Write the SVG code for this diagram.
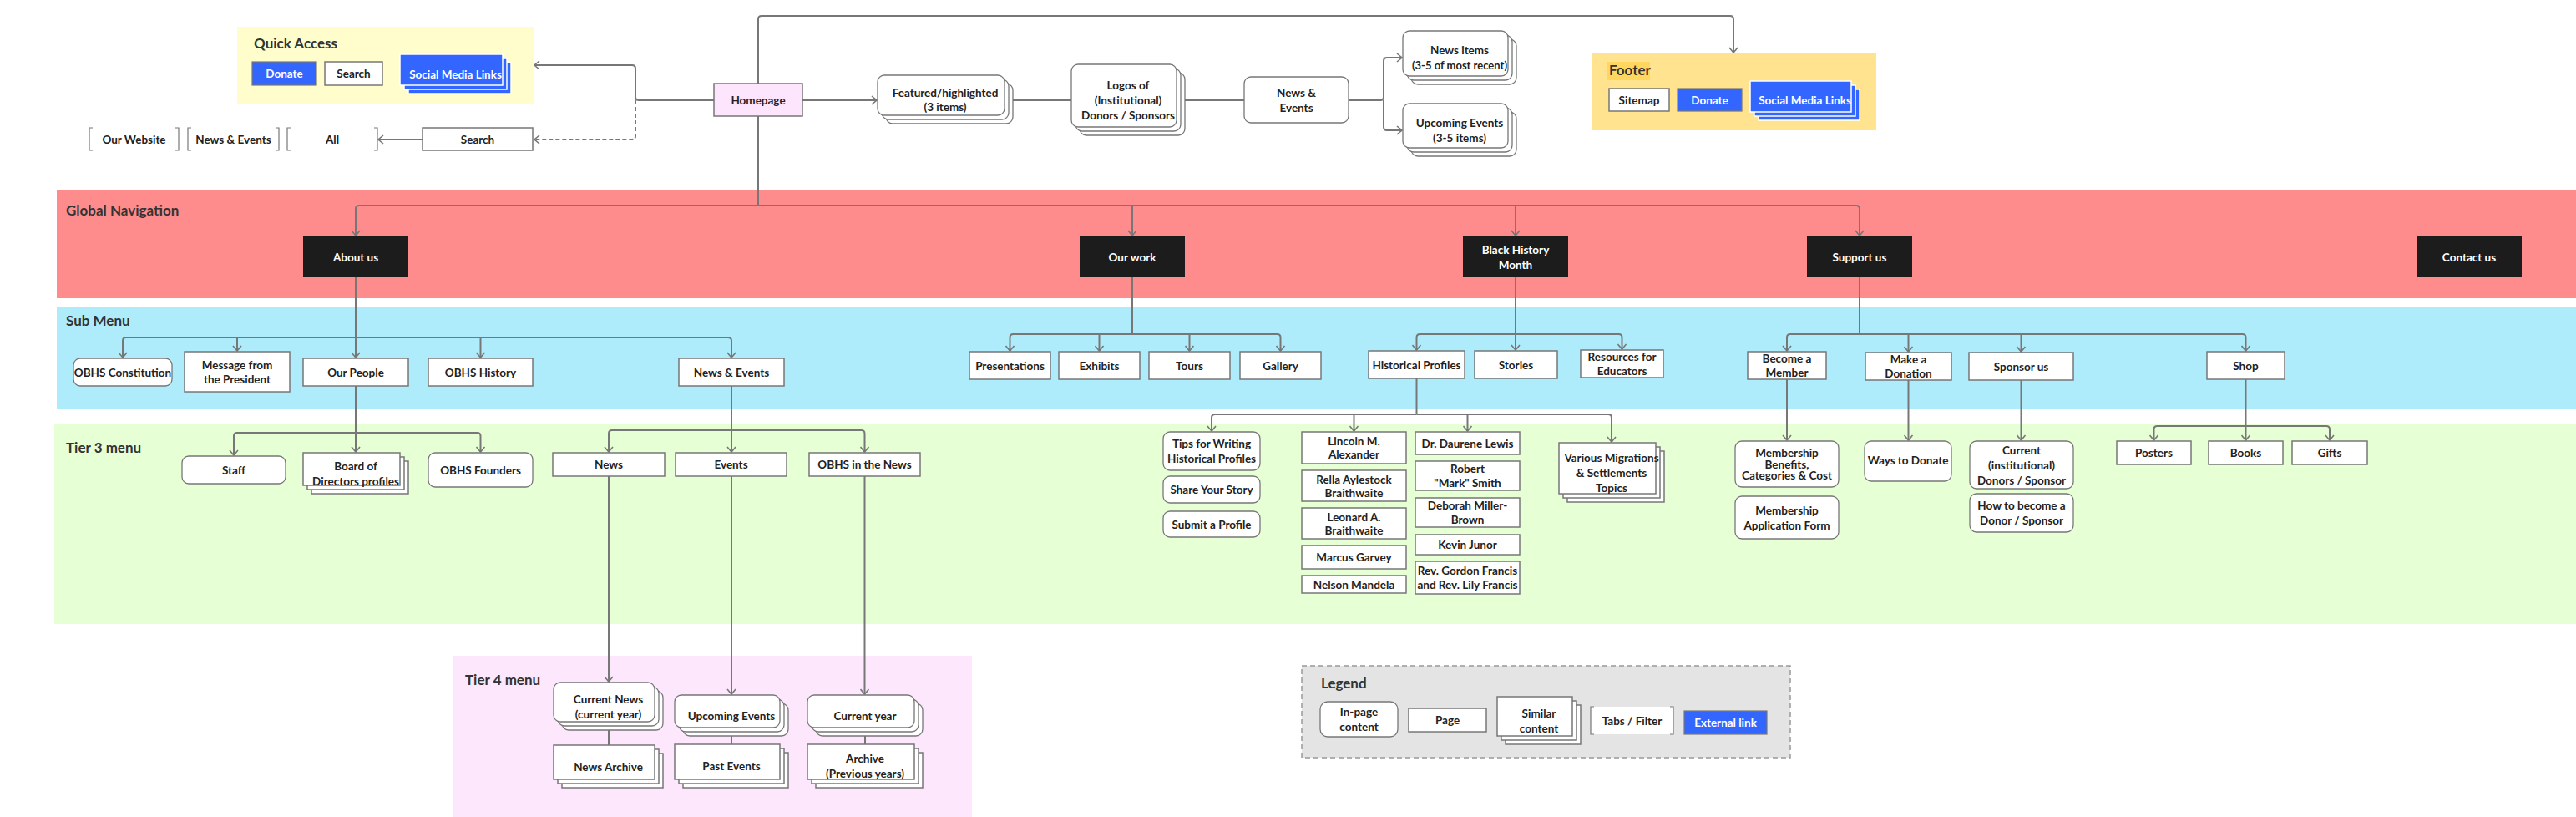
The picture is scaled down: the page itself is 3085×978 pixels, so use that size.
<svg xmlns="http://www.w3.org/2000/svg" width="3085" height="978" viewBox="0 0 3085 978">
<style>
.pg{fill:#fff;stroke:#777;stroke-width:1.5}
.ip{fill:#fff;stroke:#777;stroke-width:1.3}
.nav{fill:#1c1c1c}
.ext{fill:#3366ff;stroke:#777;stroke-width:1.2}
.extw{fill:#3366ff;stroke:#fff;stroke-width:1.5}
.t{font-family:Lato,"Liberation Sans",sans-serif;font-size:13.5px;font-weight:700;fill:#222;text-anchor:middle;dominant-baseline:central}
.w{fill:#fff}
.lbl{font-family:Lato,"Liberation Sans",sans-serif;font-size:17px;font-weight:700;fill:#333}
.ln{fill:none;stroke:#777;stroke-width:2}
.ar{marker-end:url(#arr)}
.br{fill:none;stroke:#777;stroke-width:1.2}
</style>
<defs>
<marker id="arr" markerUnits="userSpaceOnUse" viewBox="0 0 8 12" refX="7" refY="6" markerWidth="8" markerHeight="12" orient="auto">
<path d="M1,1 L7,6 L1,11" fill="none" stroke="#777" stroke-width="1.6"/>
</marker>
</defs>

<!-- bands -->
<g id="bands">
<rect x="68" y="227" width="3017" height="130" fill="#ff8c8c"/>
<rect x="68" y="367" width="3017" height="123" fill="#aeebfb"/>
<rect x="65" y="508" width="3020" height="239" fill="#e6ffd5"/>
<rect x="542" y="785" width="622" height="193" fill="#fce7fc"/>
<rect x="284" y="32" width="355" height="92" fill="#fffdcc"/>
<rect x="1907" y="64" width="340" height="92" fill="#ffe38f"/>
<rect x="1559" y="797" width="585" height="110" fill="#e4e4e4" stroke="#999" stroke-width="1.5" stroke-dasharray="6 4"/>
<text class="lbl" x="79" y="258">Global Navigation</text>
<text class="lbl" x="79" y="390" fill="#111">Sub Menu</text>
<text class="lbl" x="79" y="542" fill="#111">Tier 3 menu</text>
<text class="lbl" x="557" y="820" fill="#111">Tier 4 menu</text>
<text class="lbl" x="304" y="58">Quick Access</text>
<rect x="1925" y="74" width="51" height="22" fill="#ffd75e"/>
<text class="lbl" x="1927" y="90" fill="#111">Footer</text>
<text class="lbl" x="1582" y="824" font-size="20">Legend</text>
</g>

<!-- connectors -->
<g id="connectors">
<path class="ln ar" d="M855,120 H765 Q761,120 761,116 V82 Q761,78 757,78 H640"/>
<path class="ln ar" d="M761,120 V163 Q761,167 757,167 H640" stroke-dasharray="5 3"/>
<path class="ln ar" d="M506,167 H453"/>
<path class="ln ar" d="M961,120 H1050"/>
<path class="ln" d="M1213,120 H1283"/>
<path class="ln" d="M1419,120 H1490"/>
<path class="ln ar" d="M1615,120 H1653 Q1657,120 1657,116 V73 Q1657,69 1661,69 H1679"/>
<path class="ln ar" d="M1657,120 V152 Q1657,156 1661,156 H1679"/>
<path class="ln ar" d="M908,100 V23 Q908,19 912,19 H2072 Q2076,19 2076,23 V63"/>
<path class="ln" d="M908,139 V246"/>
<path class="ln ar" d="M908,246 H430 Q426,246 426,250 V282"/>
<path class="ln ar" d="M908,246 H2223 Q2227,246 2227,250 V282"/>
<path class="ln ar" d="M1356,246 V282"/>
<path class="ln ar" d="M1815,246 V282"/>
<!-- about us -->
<path class="ln ar" d="M426,332 V428"/>
<path class="ln ar" d="M426,404 H151 Q147,404 147,408 V428"/>
<path class="ln ar" d="M426,404 H872 Q876,404 876,408 V428"/>
<path class="ln ar" d="M284,404 V420"/>
<path class="ln ar" d="M575.5,404 V428"/>
<!-- our work -->
<path class="ln" d="M1356,332 V400"/>
<path class="ln ar" d="M1356,400 H1213.5 Q1209.5,400 1209.5,404 V420"/>
<path class="ln ar" d="M1356,400 H1529.5 Q1533.5,400 1533.5,404 V420"/>
<path class="ln ar" d="M1316.5,400 V420"/>
<path class="ln ar" d="M1424.5,400 V420"/>
<!-- BHM -->
<path class="ln ar" d="M1815,332 V419"/>
<path class="ln ar" d="M1815,400 H1700.5 Q1696.5,400 1696.5,404 V419"/>
<path class="ln ar" d="M1815,400 H1938.5 Q1942.5,400 1942.5,404 V418"/>
<!-- support -->
<path class="ln" d="M2227,332 V400"/>
<path class="ln ar" d="M2227,400 H2144 Q2140,400 2140,404 V420"/>
<path class="ln ar" d="M2227,400 H2685.5 Q2689.5,400 2689.5,404 V420"/>
<path class="ln ar" d="M2285.5,400 V421"/>
<path class="ln ar" d="M2420.5,400 V421"/>
<!-- our people -->
<path class="ln ar" d="M426,462 V541"/>
<path class="ln ar" d="M426,518 H284 Q280,518 280,522 V545"/>
<path class="ln ar" d="M426,518 H571.5 Q575.5,518 575.5,522 V541"/>
<!-- news & events -->
<path class="ln ar" d="M876,462 V541"/>
<path class="ln ar" d="M876,515 H733 Q729,515 729,519 V541"/>
<path class="ln ar" d="M876,515 H1031.5 Q1035.5,515 1035.5,519 V541"/>
<path class="ln ar" d="M729,570 V816"/>
<path class="ln ar" d="M876,570 V831"/>
<path class="ln ar" d="M1035.5,570 V831"/>
<path class="ln" d="M729,864 V892"/>
<path class="ln" d="M876,871 V891"/>
<path class="ln" d="M1036,871 V891"/>
<!-- historical profiles -->
<path class="ln" d="M1696.5,453 V496"/>
<path class="ln ar" d="M1696.5,496 H1455 Q1451,496 1451,500 V516"/>
<path class="ln ar" d="M1696.5,496 H1926 Q1930,496 1930,500 V529"/>
<path class="ln ar" d="M1621.5,496 V516"/>
<path class="ln ar" d="M1757.5,496 V516"/>
<!-- support children -->
<path class="ln ar" d="M2140,454 V527"/>
<path class="ln ar" d="M2285.5,455 V527"/>
<path class="ln ar" d="M2420.5,455 V527"/>
<path class="ln ar" d="M2689.5,454 V527"/>
<path class="ln ar" d="M2689.5,510 H2583.5 Q2579.5,510 2579.5,514 V527"/>
<path class="ln ar" d="M2689.5,510 H2786 Q2790,510 2790,514 V527"/>
</g>

<!-- top nodes -->
<g id="qa-donate"><rect class="ext" x="302" y="74" width="77" height="28"/><text class="t w" x="340.5" y="88">Donate</text></g>
<g id="qa-search"><rect class="pg" x="389" y="74" width="69" height="28"/><text class="t" x="423.5" y="88">Search</text></g>
<g id="qa-social"><rect class="extw" x="489" y="75" width="123" height="37"/><rect class="extw" x="484" y="70" width="123" height="37"/><rect class="extw" x="479" y="65" width="123" height="37"/><text class="t w" x="545.5" y="88.5">Social Media Links</text></g>

<g id="tab-website"><path class="br" d="M111,153 H107 V180 H111 M210,153 H214 V180 H210"/><text class="t" x="160.5" y="166.5">Our Website</text></g>
<g id="tab-news"><path class="br" d="M229,153 H225 V180 H229 M330,153 H334 V180 H330"/><text class="t" x="279.5" y="166.5">News &amp; Events</text></g>
<g id="tab-all"><path class="br" d="M348,153 H344 V180 H348 M448,153 H452 V180 H448"/><text class="t" x="398" y="166.5">All</text></g>
<g id="search"><rect class="pg" x="506" y="153" width="132" height="27"/><text class="t" x="572" y="166.5">Search</text></g>

<g id="homepage"><rect x="855" y="100" width="106" height="39" fill="#fde5fd" stroke="#777" stroke-width="1.5"/><text class="t" x="908" y="119.5" fill="#333">Homepage</text></g>

<g id="featured"><rect class="ip" x="1061" y="100" width="152" height="48" rx="8"/><rect class="ip" x="1056" y="95" width="152" height="48" rx="8"/><rect class="ip" x="1051" y="90" width="152" height="48" rx="8"/><text class="t" x="1132" y="119"><tspan x="1132" dy="-8.5">Featured/highlighted</tspan><tspan x="1132" dy="17">(3 items)</tspan></text></g>
<g id="logos"><rect class="ip" x="1293" y="87" width="126" height="75" rx="8"/><rect class="ip" x="1288" y="82" width="126" height="75" rx="8"/><rect class="ip" x="1283" y="77" width="126" height="75" rx="8"/><text class="t" x="1351" y="119.5"><tspan x="1351" dy="-18">Logos of</tspan><tspan x="1351" dy="18">(Institutional)</tspan><tspan x="1351" dy="18">Donors / Sponsors</tspan></text></g>
<g id="home-news-events"><rect class="ip" x="1490" y="92" width="125" height="55" rx="8"/><text class="t" x="1552.5" y="119.5"><tspan x="1552.5" dy="-9">News &amp;</tspan><tspan x="1552.5" dy="18">Events</tspan></text></g>
<g id="news-items"><rect class="ip" x="1690" y="47" width="126" height="54" rx="8"/><rect class="ip" x="1685" y="42" width="126" height="54" rx="8"/><rect class="ip" x="1680" y="37" width="126" height="54" rx="8"/><text class="t" x="1748" y="69"><tspan x="1748" dy="-9">News items</tspan><tspan x="1748" dy="18" font-size="13">(3-5 of most recent)</tspan></text></g>
<g id="upcoming-events"><rect class="ip" x="1690" y="134" width="126" height="53" rx="8"/><rect class="ip" x="1685" y="129" width="126" height="53" rx="8"/><rect class="ip" x="1680" y="124" width="126" height="53" rx="8"/><text class="t" x="1748" y="155.5"><tspan x="1748" dy="-9">Upcoming Events</tspan><tspan x="1748" dy="18">(3-5 items)</tspan></text></g>

<g id="footer-sitemap"><rect class="pg" x="1927" y="106" width="72" height="27"/><text class="t" x="1963" y="119.5">Sitemap</text></g>
<g id="footer-donate"><rect class="ext" x="2009" y="106" width="77" height="27"/><text class="t w" x="2047.5" y="119.5">Donate</text></g>
<g id="footer-social"><rect class="extw" x="2106" y="107" width="121" height="37"/><rect class="extw" x="2101" y="102" width="121" height="37"/><rect class="extw" x="2096" y="97" width="121" height="37"/><text class="t w" x="2161.5" y="120">Social Media Links</text></g>

<!-- global nav -->
<g id="nav-about"><rect class="nav" x="363" y="283" width="126" height="49"/><text class="t w" x="426" y="307.5">About us</text></g>
<g id="nav-work"><rect class="nav" x="1293" y="283" width="126" height="49"/><text class="t w" x="1356" y="307.5">Our work</text></g>
<g id="nav-bhm"><rect class="nav" x="1752" y="283" width="126" height="49"/><text class="t w" x="1815" y="307.5"><tspan x="1815" dy="-9">Black History</tspan><tspan x="1815" dy="18">Month</tspan></text></g>
<g id="nav-support"><rect class="nav" x="2164" y="283" width="126" height="49"/><text class="t w" x="2227" y="307.5">Support us</text></g>
<g id="nav-contact"><rect class="nav" x="2894" y="283" width="126" height="49"/><text class="t w" x="2957" y="307.5">Contact us</text></g>

<!-- sub menu -->
<g id="sub-constitution"><rect class="ip" x="88" y="429" width="118" height="33" rx="8"/><text class="t" x="147" y="445.5" font-size="13">OBHS Constitution</text></g>
<g id="sub-message"><rect class="pg" x="221" y="421" width="126" height="48"/><text class="t" x="284" y="445" fill="#000"><tspan x="284" dy="-8.5">Message from</tspan><tspan x="284" dy="17">the President</tspan></text></g>
<g id="sub-people"><rect class="pg" x="363" y="429" width="126" height="33"/><text class="t" x="426" y="445.5" fill="#000">Our People</text></g>
<g id="sub-history"><rect class="pg" x="513" y="429" width="125" height="33"/><text class="t" x="575.5" y="445.5" fill="#000">OBHS History</text></g>
<g id="sub-news-events"><rect class="pg" x="813" y="429" width="126" height="33"/><text class="t" x="876" y="445.5" fill="#000">News &amp; Events</text></g>
<g id="sub-presentations"><rect class="pg" x="1161" y="421" width="97" height="33"/><text class="t" x="1209.5" y="437.5" fill="#000">Presentations</text></g>
<g id="sub-exhibits"><rect class="pg" x="1268" y="421" width="97" height="33"/><text class="t" x="1316.5" y="437.5" fill="#000">Exhibits</text></g>
<g id="sub-tours"><rect class="pg" x="1376" y="421" width="97" height="33"/><text class="t" x="1424.5" y="437.5" fill="#000">Tours</text></g>
<g id="sub-gallery"><rect class="pg" x="1485" y="421" width="97" height="33"/><text class="t" x="1533.5" y="437.5" fill="#000">Gallery</text></g>
<g id="sub-historical"><rect class="pg" x="1639" y="420" width="115" height="33"/><text class="t" x="1696.5" y="436.5" fill="#000">Historical Profiles</text></g>
<g id="sub-stories"><rect class="pg" x="1766" y="420" width="99" height="33"/><text class="t" x="1815.5" y="436.5" fill="#000">Stories</text></g>
<g id="sub-resources"><rect class="pg" x="1893" y="419" width="99" height="33"/><text class="t" x="1942.5" y="435.5" fill="#000"><tspan x="1942.5" dy="-8.5">Resources for</tspan><tspan x="1942.5" dy="17">Educators</tspan></text></g>
<g id="sub-member"><rect class="pg" x="2093" y="421" width="94" height="33"/><text class="t" x="2140" y="437.5" fill="#000"><tspan x="2140" dy="-8.5">Become a</tspan><tspan x="2140" dy="17">Member</tspan></text></g>
<g id="sub-donation"><rect class="pg" x="2234" y="422" width="103" height="33"/><text class="t" x="2285.5" y="438.5" fill="#000"><tspan x="2285.5" dy="-8.5">Make a</tspan><tspan x="2285.5" dy="17">Donation</tspan></text></g>
<g id="sub-sponsor"><rect class="pg" x="2358" y="422" width="125" height="33"/><text class="t" x="2420.5" y="438.5" fill="#000">Sponsor us</text></g>
<g id="sub-shop"><rect class="pg" x="2643" y="421" width="93" height="33"/><text class="t" x="2689.5" y="437.5" fill="#000">Shop</text></g>

<!-- tier 3 -->
<g id="t3-staff"><rect class="ip" x="218" y="546" width="124" height="33" rx="8"/><text class="t" x="280" y="562.5" fill="#333">Staff</text></g>
<g id="t3-board"><rect class="pg" x="373" y="552" width="116" height="39"/><rect class="pg" x="368" y="547" width="116" height="39"/><rect class="pg" x="363" y="542" width="116" height="39"/><text class="t" x="426" y="566.5" fill="#333"><tspan x="426" dy="-9">Board of</tspan><tspan x="426" dy="18">Directors profiles</tspan></text></g>
<g id="t3-founders"><rect class="ip" x="513" y="542" width="125" height="41" rx="8"/><text class="t" x="575.5" y="562.5" fill="#333">OBHS Founders</text></g>
<g id="t3-news"><rect class="pg" x="662" y="542" width="134" height="28"/><text class="t" x="729" y="556" fill="#000">News</text></g>
<g id="t3-events"><rect class="pg" x="809" y="542" width="133" height="28"/><text class="t" x="875.5" y="556" fill="#000">Events</text></g>
<g id="t3-obhs-news"><rect class="pg" x="969" y="542" width="133" height="28"/><text class="t" x="1035.5" y="556" fill="#000">OBHS in the News</text></g>
<g id="t3-tips"><rect class="ip" x="1393" y="517" width="116" height="46" rx="8"/><text class="t" x="1451" y="540" fill="#111"><tspan x="1451" dy="-9">Tips for Writing</tspan><tspan x="1451" dy="18">Historical Profiles</tspan></text></g>
<g id="t3-share"><rect class="ip" x="1393" y="570" width="116" height="32" rx="8"/><text class="t" x="1451" y="586" fill="#111">Share Your Story</text></g>
<g id="t3-submit"><rect class="ip" x="1393" y="612" width="116" height="31" rx="8"/><text class="t" x="1451" y="627.5" fill="#111">Submit a Profile</text></g>
<g id="t3-lincoln"><rect class="pg" x="1559" y="517" width="125" height="38"/><text class="t" x="1621.5" y="536" fill="#111"><tspan x="1621.5" dy="-8">Lincoln M.</tspan><tspan x="1621.5" dy="16">Alexander</tspan></text></g>
<g id="t3-rella"><rect class="pg" x="1559" y="563" width="125" height="37"/><text class="t" x="1621.5" y="581.5" fill="#111"><tspan x="1621.5" dy="-8">Rella Aylestock</tspan><tspan x="1621.5" dy="16">Braithwaite</tspan></text></g>
<g id="t3-leonard"><rect class="pg" x="1559" y="608" width="125" height="37"/><text class="t" x="1621.5" y="626.5" fill="#111"><tspan x="1621.5" dy="-8">Leonard A.</tspan><tspan x="1621.5" dy="16">Braithwaite</tspan></text></g>
<g id="t3-marcus"><rect class="pg" x="1559" y="653" width="125" height="28"/><text class="t" x="1621.5" y="667" fill="#111">Marcus Garvey</text></g>
<g id="t3-nelson"><rect class="pg" x="1559" y="689" width="125" height="21"/><text class="t" x="1621.5" y="699.5" fill="#111">Nelson Mandela</text></g>
<g id="t3-daurene"><rect class="pg" x="1695" y="517" width="125" height="27"/><text class="t" x="1757.5" y="530.5" fill="#111">Dr. Daurene Lewis</text></g>
<g id="t3-robert"><rect class="pg" x="1695" y="552" width="125" height="35"/><text class="t" x="1757.5" y="569.5" fill="#111"><tspan x="1757.5" dy="-8.5">Robert</tspan><tspan x="1757.5" dy="17">"Mark" Smith</tspan></text></g>
<g id="t3-deborah"><rect class="pg" x="1695" y="596" width="125" height="35"/><text class="t" x="1757.5" y="613.5" fill="#111"><tspan x="1757.5" dy="-8.5">Deborah Miller-</tspan><tspan x="1757.5" dy="17">Brown</tspan></text></g>
<g id="t3-kevin"><rect class="pg" x="1695" y="640" width="125" height="24"/><text class="t" x="1757.5" y="652" fill="#111">Kevin Junor</text></g>
<g id="t3-rev"><rect class="pg" x="1695" y="672" width="125" height="39"/><text class="t" x="1757.5" y="691.5" fill="#111" font-size="13"><tspan x="1757.5" dy="-8.5">Rev. Gordon Francis</tspan><tspan x="1757.5" dy="17">and Rev. Lily Francis</tspan></text></g>
<g id="t3-migrations"><rect class="pg" x="1877" y="540" width="116" height="61"/><rect class="pg" x="1872" y="535" width="116" height="61"/><rect class="pg" x="1867" y="530" width="116" height="61"/><text class="t" x="1930" y="565.5" fill="#111"><tspan x="1930" dy="-18">Various Migrations</tspan><tspan x="1930" dy="18">&amp; Settlements</tspan><tspan x="1930" dy="18">Topics</tspan></text></g>
<g id="t3-benefits"><rect class="ip" x="2078" y="528" width="124" height="55" rx="8"/><text class="t" x="2140" y="555.5" fill="#333"><tspan x="2140" dy="-13.5">Membership</tspan><tspan x="2140" dy="13.5">Benefits,</tspan><tspan x="2140" dy="13.5">Categories &amp; Cost</tspan></text></g>
<g id="t3-application"><rect class="ip" x="2078" y="594" width="124" height="51" rx="8"/><text class="t" x="2140" y="619.5" fill="#333"><tspan x="2140" dy="-9">Membership</tspan><tspan x="2140" dy="18">Application Form</tspan></text></g>
<g id="t3-ways"><rect class="ip" x="2233" y="528" width="104" height="48" rx="8"/><text class="t" x="2285" y="551" fill="#333">Ways to Donate</text></g>
<g id="t3-current-donors"><rect class="ip" x="2359" y="528" width="124" height="57" rx="8"/><text class="t" x="2421" y="556.5" fill="#333"><tspan x="2421" dy="-18">Current</tspan><tspan x="2421" dy="18">(institutional)</tspan><tspan x="2421" dy="18">Donors / Sponsor</tspan></text></g>
<g id="t3-become-donor"><rect class="ip" x="2359" y="591" width="124" height="46" rx="8"/><text class="t" x="2421" y="614" fill="#333"><tspan x="2421" dy="-9">How to become a</tspan><tspan x="2421" dy="18">Donor / Sponsor</tspan></text></g>
<g id="t3-posters"><rect class="pg" x="2535" y="528" width="89" height="28"/><text class="t" x="2579.5" y="542" fill="#000">Posters</text></g>
<g id="t3-books"><rect class="pg" x="2645" y="528" width="89" height="28"/><text class="t" x="2689.5" y="542" fill="#000">Books</text></g>
<g id="t3-gifts"><rect class="pg" x="2745" y="528" width="90" height="28"/><text class="t" x="2790" y="542" fill="#000">Gifts</text></g>

<!-- tier 4 -->
<g id="t4-current-news"><rect class="ip" x="673" y="827" width="121" height="47" rx="8"/><rect class="ip" x="668" y="822" width="121" height="47" rx="8"/><rect class="ip" x="663" y="817" width="121" height="47" rx="8"/><text class="t" x="728.5" y="845.5" fill="#222"><tspan x="728.5" dy="-9">Current News</tspan><tspan x="728.5" dy="18">(current year)</tspan></text></g>
<g id="t4-upcoming"><rect class="ip" x="818" y="842" width="126" height="39" rx="8"/><rect class="ip" x="813" y="837" width="126" height="39" rx="8"/><rect class="ip" x="808" y="832" width="126" height="39" rx="8"/><text class="t" x="876" y="856.5" fill="#222">Upcoming Events</text></g>
<g id="t4-current-year"><rect class="ip" x="977" y="842" width="128" height="39" rx="8"/><rect class="ip" x="972" y="837" width="128" height="39" rx="8"/><rect class="ip" x="967" y="832" width="128" height="39" rx="8"/><text class="t" x="1036" y="856.5" fill="#222">Current year</text></g>
<g id="t4-news-archive"><rect class="pg" x="673" y="902" width="121" height="41"/><rect class="pg" x="668" y="897" width="121" height="41"/><rect class="pg" x="663" y="892" width="121" height="41"/><text class="t" x="728.5" y="917.5" fill="#222">News Archive</text></g>
<g id="t4-past-events"><rect class="pg" x="818" y="901" width="126" height="42"/><rect class="pg" x="813" y="896" width="126" height="42"/><rect class="pg" x="808" y="891" width="126" height="42"/><text class="t" x="876" y="917" fill="#222">Past Events</text></g>
<g id="t4-archive"><rect class="pg" x="977" y="901" width="128" height="42"/><rect class="pg" x="972" y="896" width="128" height="42"/><rect class="pg" x="967" y="891" width="128" height="42"/><text class="t" x="1036" y="917" fill="#222"><tspan x="1036" dy="-9">Archive</tspan><tspan x="1036" dy="18">(Previous years)</tspan></text></g>

<!-- legend -->
<g id="legend-inpage"><rect class="ip" x="1581" y="840" width="93" height="42" rx="9"/><text class="t" x="1627.5" y="861" fill="#222"><tspan x="1627.5" dy="-9">In-page</tspan><tspan x="1627.5" dy="18">content</tspan></text></g>
<g id="legend-page"><rect class="pg" x="1687" y="848" width="93" height="28"/><text class="t" x="1733.5" y="862" fill="#222">Page</text></g>
<g id="legend-similar"><rect class="pg" x="1803" y="844" width="90" height="47"/><rect class="pg" x="1798" y="839" width="90" height="47"/><rect class="pg" x="1793" y="834" width="90" height="47"/><text class="t" x="1843" y="862.5" fill="#222"><tspan x="1843" dy="-9">Similar</tspan><tspan x="1843" dy="18">content</tspan></text></g>
<g id="legend-tabs"><rect x="1905" y="846" width="99" height="33" fill="#fff"/><path class="br" d="M1909,846 H1905 V879 H1909 M2000,846 H2004 V879 H2000"/><text class="t" x="1954.5" y="862.5" fill="#222">Tabs / Filter</text></g>
<g id="legend-external"><rect class="ext" x="2017" y="851" width="99" height="28"/><text class="t w" x="2066.5" y="865">External link</text></g>
</svg>
